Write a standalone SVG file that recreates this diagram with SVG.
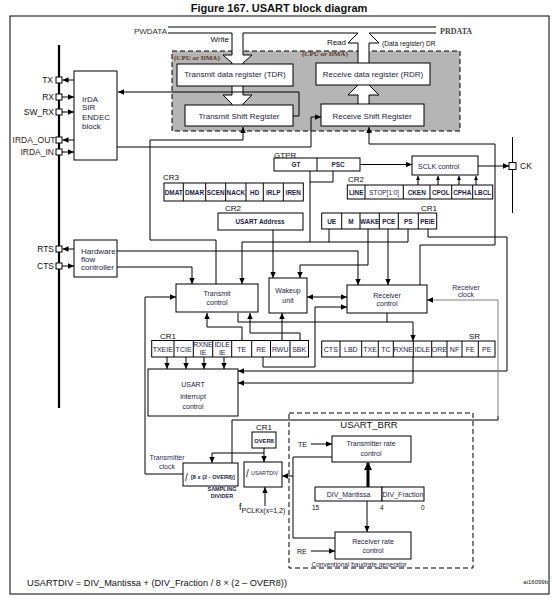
<svg xmlns="http://www.w3.org/2000/svg" width="557" height="609" viewBox="0 0 557 609">
<defs>
<style>
text{font-family:"Liberation Sans",Arial,Helvetica,sans-serif;fill:#111}
.b{fill:#fff;stroke:#000;stroke-width:1}
.l{fill:none;stroke:#000;stroke-width:1}
.la{fill:none;stroke:#000;stroke-width:1;marker-end:url(#a)}
.ls{fill:none;stroke:#000;stroke-width:1;marker-end:url(#s)}
.n{fill:#1d1d42}
.c{text-anchor:middle}
.e{text-anchor:end}
.r{font-size:6.4px;font-weight:bold}
.r7{font-size:7px}
.t7{font-size:7px}
.t8{font-size:8px}
.lb{font-size:8px}
.pin{font-size:8.5px}
.sf{font-family:"Liberation Serif","Times New Roman",serif;font-weight:bold}
.wa{fill:#fff;stroke:none}
</style>
<marker id="a" viewBox="0 0 6 6" refX="6" refY="3" markerWidth="6" markerHeight="6" markerUnits="userSpaceOnUse" orient="auto-start-reverse"><path d="M0,0.3L6,3L0,5.7z" fill="#000"/></marker>
<marker id="s" viewBox="0 0 4 4" refX="4" refY="2" markerWidth="4" markerHeight="4" markerUnits="userSpaceOnUse" orient="auto"><path d="M0,0L4,2L0,4z" fill="#000"/></marker>
<marker id="t" viewBox="0 0 8 8" refX="7" refY="4" markerWidth="8" markerHeight="8" markerUnits="userSpaceOnUse" orient="auto"><path d="M0,0L8,4L0,8z" fill="#000"/></marker>
</defs>
<rect width="557" height="609" fill="#fff"/>
<text x="279" y="12" class="c" style="font-size:11px;font-weight:bold">Figure 167. USART block diagram</text>
<rect x="10" y="16" width="539" height="578" class="l"/>

<g id="dma-region">
<rect x="172" y="51" width="288" height="80" fill="#b5b5b5" stroke="#000" stroke-dasharray="5,3"/>
<text x="174" y="60" class="sf" style="font-size:7px;fill:#5a3526">(CPU or DMA)</text>
<text x="302" y="56" class="sf" style="font-size:7px;fill:#5a3526">(CPU or DMA)</text>
</g>

<g id="data-bus">
<line x1="168" y1="27" x2="436" y2="27" class="l"/>
<polyline points="168,33 232,33" class="l"/>
<polyline points="243,33 358,33" class="l"/>
<polyline points="369,33 436,33" class="l"/>
<text x="167" y="33.5" class="e t8" style="fill:#333">PWDATA</text>
<text x="440" y="33.5" class="sf" style="font-size:8px;fill:#444">PRDATA</text>
<text x="229" y="42" class="e t8">Write</text>
<text x="346" y="45" class="e t8">Read</text>
<text x="382" y="45.5" style="font-size:6.6px">(Data register) DR</text>
<polygon points="232,33 243,33 243,55 252,55 243,63 243,64 232,64 232,63 223,55 232,55" class="wa"/>
<polyline points="232,33 232,55 223,55 232,63 232,64" class="l"/>
<polyline points="243,33 243,55 252,55 243,63 243,64" class="l"/>
<polygon points="358,63 369,63 369,43 379,43 369,33 358,33 348,43 358,43" class="wa"/>
<polyline points="358,63 358,43 348,43 358,33" class="l"/>
<polyline points="369,63 369,43 379,43 369,33" class="l"/>
<polygon points="232,86 243,86 243,95 252,95 243,104 243,105 232,105 232,104 223,95 232,95" class="wa"/>
<polyline points="232,86 232,95 223,95 232,104 232,105" class="l"/>
<polyline points="243,86 243,95 252,95 243,104 243,105" class="l"/>
<polygon points="358,104 369,104 369,95 379,95 369,85 358,85 348,95 358,95" class="wa"/>
<polyline points="358,104 358,95 348,95 358,85" class="l"/>
<polyline points="369,104 369,95 379,95 369,85" class="l"/>
</g>

<g id="tdr"><rect x="177" y="64" width="116" height="22" class="b"/><text x="235" y="77" class="c t8 n">Transmit data register (TDR)</text></g>
<g id="tsr"><rect x="185" y="105" width="108" height="21" class="b"/><text x="239" y="119" class="c t8 n">Transmit Shift Register</text></g>
<g id="rdr"><rect x="316" y="63" width="114" height="22" class="b"/><text x="373" y="76.5" class="c t8 n">Receive data register (RDR)</text></g>
<g id="rsr"><rect x="321" y="104" width="103" height="22" class="b"/><text x="372" y="118.5" class="c t8 n">Receive Shift Register</text></g>

<g id="connectors">
<polyline points="293,116 299,116 299,92 118,92" class="la"/>
<polyline points="117,147 311,147 311,117 321,117" class="la"/>
<polyline points="216,284 216,240 150,240 150,140 243,140 243,127" class="la"/>
<polyline points="420,285 420,245 495,245 495,144 369,144 369,127" class="la"/>
<polyline points="310,171 310,242"  class="l"/>
<polyline points="333,171 333,182 310,182" class="l"/>
<polyline points="360,164.5 412,164.5" class="la"/>
<polyline points="478,166 509,166" class="la"/>
<line x1="512.5" y1="137" x2="512.5" y2="213" class="l"/>
<polyline points="418,185 418,176" class="ls"/>
<polyline points="438,185 438,176" class="ls"/>
<polyline points="459,185 459,176" class="ls"/>
<polyline points="476,185 476,176" class="ls"/>
<polyline points="74,80 62.5,80" class="la"/>
<polyline points="62,97 74,97" class="la"/>
<polyline points="62,112 74,112" class="la"/>
<polyline points="74,140 62.5,140" class="la"/>
<polyline points="62,152 74,152" class="la"/>
<polyline points="74,249 62.5,249" class="la"/>
<polyline points="62,266 74,266" class="la"/>
<polyline points="117,251 358,251 358,285" class="la"/>
<polyline points="117,267 192,267 192,284" class="la"/>
<polyline points="242,242 242,284" class="la"/>
<polyline points="242,242 408,242" class="l"/>
<polyline points="329,229 329,242" class="l"/>
<polyline points="408,229 408,242" class="l"/>
<polyline points="273,230 273,278" class="la"/>
<polyline points="368,229 368,265 300,265 300,278" class="la"/>
<polyline points="388,229 388,285" class="la"/>
<polyline points="428,229 428,237 507,237 507,371 238,371" class="la"/>
<polyline points="307,297 347,297" class="la" style="marker-start:url(#a)"/>
<polyline points="263,357 263,367 315,367 315,307 347,307" class="la"/>
<polyline points="282,340 282,313" class="la"/>
<polyline points="300,340 300,333 250,333 250,313" class="la"/>
<polyline points="242,340 242,327 207,327 207,313" class="la"/>
<polyline points="238,313 238,322 413,322 413,341" class="la"/>
<polyline points="387,313 387,322" class="l"/>
<polyline points="413,357 413,383 238,383" class="la"/>
<polyline points="167,357 167,369" class="la"/>
<polyline points="186,357 186,369" class="la"/>
<polyline points="204,357 204,369" class="la"/>
<polyline points="224,357 224,369" class="la"/>
<polyline points="183,474 145,474 145,297 176,297" class="la"/>
<polyline points="232,463 232,420 498,420 498,416" class="l"/>
<polyline points="498,416 498,300 427,300" class="la" style="stroke:#808080"/>
<polyline points="264,448 264,462" class="la"/>
<polyline points="264,453 212,453 212,463" class="la"/>
<polyline points="265,506 265,487" class="la"/>
<polyline points="332,457 293,457 293,538 335,538" class="l"/>
<polyline points="293,476 282,476" class="la"/>
<polyline points="311,444 332,444" class="la"/>
<polyline points="311,551 335,551" class="la"/>
<polyline points="368,487 368,463" style="fill:none;stroke:#000;stroke-width:3;marker-end:url(#t)"/>
<polyline points="367,501 367,532" class="la"/>
</g>

<g id="pin-bus">
<line x1="59" y1="45" x2="59" y2="408" stroke="#000" stroke-width="2.2"/>
</g>
<g id="pins">
<rect x="56" y="77" width="6" height="6" class="b"/>
<rect x="56" y="94" width="6" height="6" class="b"/>
<rect x="56" y="109" width="6" height="6" class="b"/>
<rect x="56" y="137" width="6" height="6" class="b"/>
<rect x="56" y="149" width="6" height="6" class="b"/>
<rect x="56" y="246" width="6" height="6" class="b"/>
<rect x="56" y="263" width="6" height="6" class="b"/>
<text x="53" y="83" class="e pin">TX</text>
<text x="54" y="100" class="e pin">RX</text>
<text x="54" y="115" class="e pin">SW_RX</text>
<text x="55.5" y="143" class="e pin" style="fill:#3a2020">IRDA_OUT</text>
<text x="54" y="155" class="e pin" style="fill:#3a2020">IRDA_IN</text>
<text x="54" y="252" class="e pin">RTS</text>
<text x="54" y="269" class="e pin">CTS</text>
</g>

<g id="irda"><rect x="74" y="71" width="43" height="89" class="b"/>
<text x="82" y="102" class="t8 n">IrDA</text><text x="82" y="110" class="t8 n">SIR</text><text x="82" y="120" class="t8 n">ENDEC</text><text x="82" y="129" class="t8 n">block</text></g>

<g id="hw-flow"><rect x="74" y="240" width="43" height="37" class="b"/>
<text x="81" y="254" class="t8 n">Hardware</text><text x="81" y="262" class="t8 n">flow</text><text x="81" y="270" class="t8 n">controller</text></g>

<g id="gtpr"><text x="274" y="157.5" class="lb">GTPR</text>
<rect x="274" y="158" width="86" height="13" class="b"/><line x1="317" y1="158" x2="317" y2="171" class="l"/>
<text x="296" y="167" class="c r n">GT</text><text x="338" y="167" class="c r n">PSC</text></g>

<g id="sclk"><rect x="412" y="156" width="66" height="19" class="b"/><text x="418" y="168.5" class="t7 n">SCLK control</text></g>
<g id="ck"><rect x="509" y="162.5" width="7" height="7" class="b"/><text x="520" y="169" class="pin">CK</text></g>

<g id="cr3"><text x="163" y="180" class="lb">CR3</text>
<rect x="164" y="183" width="139.3" height="18" class="b"/>
<path d="M183.3,183V201M205.7,183V201M225.7,183V201M246,183V201M263.3,183V201M283.3,183V201" class="l"/>
<text y="194.5" class="c r n"><tspan x="173.7">DMAT</tspan><tspan x="194.5">DMAR</tspan><tspan x="215.7">SCEN</tspan><tspan x="235.8">NACK</tspan><tspan x="254.7">HD</tspan><tspan x="273.3">IRLP</tspan><tspan x="293.3">IREN</tspan></text></g>

<g id="cr2-right"><text x="348" y="182" class="lb">CR2</text>
<rect x="347.3" y="185" width="145.4" height="14" class="b"/>
<path d="M365,185V199M403.3,185V199M430,185V199M451.7,185V199M472.7,185V199" class="l"/>
<text y="194.5" class="c r n"><tspan x="356.2">LINE</tspan><tspan x="384.2" style="font-weight:normal">STOP[1:0]</tspan><tspan x="416.7">CKEN</tspan><tspan x="440.8">CPOL</tspan><tspan x="462.2">CPHA</tspan><tspan x="482.7">LBCL</tspan></text></g>

<g id="cr2-addr"><text x="225" y="211" class="lb">CR2</text>
<rect x="218" y="213" width="85" height="17" class="b"/><text x="260" y="224" class="c r n">USART Address</text></g>

<g id="cr1-right"><text x="437" y="211" class="e lb">CR1</text>
<rect x="321.7" y="213" width="115" height="16" class="b"/>
<path d="M341.7,213V229M360,213V229M379.3,213V229M398.3,213V229M418.3,213V229" class="l"/>
<text y="223.5" class="c r n"><tspan x="331.7">UE</tspan><tspan x="350.8">M</tspan><tspan x="369.7">WAKE</tspan><tspan x="388.8">PCE</tspan><tspan x="408.3">PS</tspan><tspan x="427.5">PEIE</tspan></text></g>

<g id="transmit-control"><rect x="176" y="284" width="82" height="28" class="b"/>
<text x="217" y="295.5" class="c t7 n">Transmit</text><text x="217" y="304.5" class="c t7 n">control</text></g>
<g id="wakeup"><rect x="269" y="278" width="38" height="35" class="b"/>
<text x="288" y="292.5" class="c t7 n">Wakeup</text><text x="288" y="302.5" class="c t7 n">unit</text></g>
<g id="receiver-control"><rect x="347" y="285" width="80" height="28" class="b"/>
<text x="387" y="297.5" class="c t7 n">Receiver</text><text x="387" y="305.5" class="c t7 n">control</text></g>
<g id="receiver-clock-label"><text x="466" y="289.5" class="c t7" style="fill:#2c2c5a">Receiver</text><text x="466" y="296.5" class="c t7" style="fill:#2c2c5a">clock</text></g>

<g id="cr1-left"><text x="160" y="338.5" class="lb">CR1</text>
<rect x="151.7" y="340.5" width="156.8" height="16.5" class="b"/>
<path d="M174,340.5V357M193.3,340.5V357M212.7,340.5V357M231.7,340.5V357M251.7,340.5V357M270.5,340.5V357M290,340.5V357" class="l"/>
<text y="351.5" class="c r7 n"><tspan x="162.8">TXEIE</tspan><tspan x="183.6">TCIE</tspan><tspan x="241.7">TE</tspan><tspan x="261.1">RE</tspan><tspan x="280.2">RWU</tspan><tspan x="299.2">SBK</tspan></text>
<text x="203" y="347" class="c r7 n">RXNE</text><text x="203" y="355" class="c r7 n">IE</text>
<text x="222.2" y="347" class="c r7 n">IDLE</text><text x="222.2" y="355" class="c r7 n">IE</text></g>

<g id="sr"><text x="469" y="338.5" class="lb">SR</text>
<rect x="321.7" y="341" width="173.3" height="16" class="b"/>
<path d="M340,341V357M361.7,341V357M378.3,341V357M393.3,341V357M413.3,341V357M431.7,341V357M447,341V357M462,341V357M478.3,341V357" class="l"/>
<text y="351.5" class="c r7 n"><tspan x="330.8">CTS</tspan><tspan x="350.8">LBD</tspan><tspan x="370">TXE</tspan><tspan x="385.8">TC</tspan><tspan x="403.3">RXNE</tspan><tspan x="422.5">IDLE</tspan><tspan x="439.3">ORE</tspan><tspan x="454.5">NF</tspan><tspan x="470.2">FE</tspan><tspan x="486.7">PE</tspan></text></g>

<g id="interrupt-control"><rect x="148" y="369" width="90" height="47" class="b"/>
<text x="193" y="386.5" class="c t7 n">USART</text><text x="193" y="398.5" class="c t7 n">interrupt</text><text x="193" y="408.5" class="c t7 n">control</text></g>

<g id="over8"><text x="264" y="430" class="c lb">CR1</text>
<rect x="252" y="432" width="24" height="16" class="b"/><text x="264" y="442.5" class="c" style="font-size:5.8px;font-weight:bold;fill:#1d1d42">OVER8</text></g>

<g id="transmitter-clock-label"><text x="167" y="459.5" class="c t7" style="fill:#2c2c5a">Transmitter</text><text x="167" y="468.5" class="c t7" style="fill:#2c2c5a">clock</text></g>

<g id="sampling-divider"><rect x="183" y="463" width="55" height="23" class="b"/>
<text x="185" y="481" style="font-size:10px;fill:#1d1d42">/</text>
<text x="191" y="479" style="font-size:5.6px;font-weight:bold;fill:#1d1d42">[8 x (2 - OVER8)]</text>
<text x="222" y="491" class="c" style="font-size:5.5px;font-weight:bold;fill:#1d1d42">SAMPLING</text>
<text x="222" y="498" class="c" style="font-size:5.5px;font-weight:bold;fill:#1d1d42">DIVIDER</text></g>

<g id="usartdiv"><rect x="244" y="462" width="38" height="25" class="b"/>
<text x="246" y="477" style="font-size:10px;fill:#1d1d42">/</text>
<text x="251" y="475" style="font-size:5.4px;fill:#1d1d42">USARTDIV</text></g>

<g id="fpclk"><text x="239" y="510" style="font-size:9px">f<tspan style="font-size:7px" dy="3">PCLKx(x=1,2)</tspan></text></g>

<g id="usart-brr">
<rect x="289" y="413" width="184" height="155" fill="none" stroke="#000" stroke-dasharray="5,3"/>
<text x="369" y="427.5" class="c" style="font-size:9.5px">USART_BRR</text>
<text x="298" y="447" class="t7">TE</text>
<text x="297" y="554" class="t7">RE</text>
<text x="359" y="566.5" class="c" style="font-size:6.5px;fill:#1d1d42">Conventional baudrate generator</text>
</g>
<g id="tx-rate"><rect x="332" y="436" width="79" height="26" class="b"/>
<text x="371" y="445.5" class="c t7 n">Transmitter rate</text><text x="371" y="455.5" class="c t7 n">control</text></g>
<g id="div"><rect x="315" y="487" width="67" height="14" class="b"/><rect x="382" y="487" width="42" height="14" class="b"/>
<text x="348.5" y="496.5" class="c t7 n">DIV_Mantissa</text><text x="403" y="496.5" class="c t7 n">DIV_Fraction</text>
<text x="312" y="510" class="r" style="font-weight:normal;font-size:6.5px">15</text><text x="380" y="510" style="font-size:6.5px">4</text><text x="421" y="510" style="font-size:6.5px">0</text></g>
<g id="rx-rate"><rect x="335" y="532" width="76" height="27" class="b"/>
<text x="373" y="543.5" class="c t7 n">Receiver rate</text><text x="373" y="552.5" class="c t7 n">control</text></g>

<g id="footer">
<text x="27" y="585.5" style="font-size:9.2px">USARTDIV = DIV_Mantissa + (DIV_Fraction / 8 × (2 – OVER8))</text>
<text x="548" y="584" class="e" style="font-size:6px">ai16099b</text>
</g>
</svg>
